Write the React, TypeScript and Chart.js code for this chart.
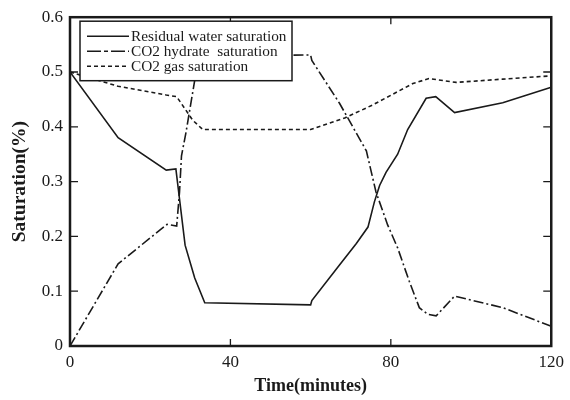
import { useEffect, useRef } from 'react';
import { Chart, registerables } from 'chart.js';

Chart.register(...registerables);

const FONT = "'Liberation Serif', 'Times New Roman', serif";
const INK = '#1a1a1a';

const waterTime = [0, 12, 24, 26.4, 28.7, 31.1, 33.6, 60, 60.3, 67.2, 71.4, 74.3, 75.9, 77.2, 78.8, 81.7, 84.2, 88.8, 91.2, 95.9, 107.9, 120];
const waterSat = [0.5, 0.38, 0.321, 0.323, 0.184, 0.124, 0.079, 0.075, 0.083, 0.148, 0.187, 0.217, 0.263, 0.293, 0.317, 0.35, 0.395, 0.452, 0.455, 0.426, 0.444, 0.472];

const hydrateTime = [0, 12, 24.2, 26.6, 27.3, 27.8, 28.9, 31.4, 33, 60, 60.3, 67.2, 70.9, 73.9, 76.3, 79.2, 81.7, 84.6, 87.1, 89.2, 91.3, 95.9, 107.9, 120];
const hydrateSat = [0, 0.15, 0.222, 0.219, 0.28, 0.347, 0.389, 0.498, 0.53, 0.531, 0.521, 0.443, 0.395, 0.356, 0.281, 0.221, 0.179, 0.118, 0.07, 0.058, 0.055, 0.091, 0.07, 0.036];

const gasTime = [0, 12, 24, 26.6, 30.6, 33.1, 60, 68.5, 75.5, 85.5, 89.5, 96.3, 107.9, 120];
const gasSat = [0.5, 0.474, 0.458, 0.455, 0.412, 0.395, 0.395, 0.416, 0.44, 0.479, 0.488, 0.481, 0.487, 0.493];

const seriesNames = ['Residual water saturation', 'CO2 hydrate  saturation', 'CO2 gas saturation'];
const seriesDash = [[], [10, 3, 2, 3], [4, 3]];

const xTicks = [0, 40, 80, 120];
const yTicks = [0, 0.1, 0.2, 0.3, 0.4, 0.5, 0.6];

function pts(xs: number[], ys: number[]) {
  return xs.map((x, i) => ({ x, y: ys[i] }));
}

const framePlugin = {
  id: 'frameAndLegend',
  afterDatasetsDraw(chart: any) {
    const { ctx, chartArea } = chart;
    const xs = chart.scales.x;
    const ys = chart.scales.y;
    const { left, right, top, bottom } = chartArea;
    ctx.save();
    ctx.strokeStyle = INK;
    // inner ticks
    ctx.lineWidth = 1.3;
    ctx.beginPath();
    xTicks.slice(1, -1).forEach((v) => {
      const p = xs.getPixelForValue(v);
      ctx.moveTo(p, bottom);
      ctx.lineTo(p, bottom - 7);
      ctx.moveTo(p, top);
      ctx.lineTo(p, top + 7);
    });
    yTicks.slice(1, -1).forEach((v) => {
      const p = ys.getPixelForValue(v);
      ctx.moveTo(left, p);
      ctx.lineTo(left + 8, p);
      ctx.moveTo(right, p);
      ctx.lineTo(right - 8, p);
    });
    ctx.stroke();
    // frame
    ctx.lineWidth = 2.5;
    ctx.strokeRect(left, top, right - left, bottom - top);

    // legend
    const bx = left + 10;
    const by = top + 4;
    const bw = 212;
    const bh = 59.5;
    ctx.fillStyle = '#ffffff';
    ctx.fillRect(bx, by, bw, bh);
    ctx.lineWidth = 1.5;
    ctx.strokeRect(bx, by, bw, bh);
    ctx.font = `15.3px ${FONT}`;
    ctx.textBaseline = 'middle';
    ctx.textAlign = 'left';
    seriesNames.forEach((name, i) => {
      const yy = by + 15 + i * 15;
      ctx.beginPath();
      ctx.setLineDash(i === 1 ? [14, 3, 4, 3] : (seriesDash[i] as number[]));
      ctx.lineWidth = 1.5;
      ctx.moveTo(bx + 7, yy);
      ctx.lineTo(bx + 49, yy);
      ctx.stroke();
      ctx.setLineDash([]);
      ctx.fillStyle = INK;
      ctx.fillText(name, bx + 51, yy + 0.5);
    });
    ctx.restore();
  },
};

export default function App() {
  const ref = useRef<HTMLCanvasElement | null>(null);
  useEffect(() => {
    if (!ref.current) return;
    const sets = [
      pts(waterTime, waterSat),
      pts(hydrateTime, hydrateSat),
      pts(gasTime, gasSat),
    ];
    const chart = new Chart(ref.current, {
      type: 'line',
      data: {
        datasets: sets.map((d, i) => ({
          label: seriesNames[i],
          data: d,
          borderColor: INK,
          borderWidth: 1.6,
          borderDash: seriesDash[i],
          pointRadius: 0,
          fill: false,
          tension: 0,
        })),
      },
      options: {
        animation: false,
        responsive: false,
        events: [],
        layout: { padding: { top: 13, right: 18, left: 0, bottom: 0 } },
        plugins: { legend: { display: false }, tooltip: { enabled: false } },
        scales: {
          x: {
            type: 'linear',
            min: 0,
            max: 120,
            afterBuildTicks: (s: any) => {
              s.ticks = xTicks.map((v) => ({ value: v }));
            },
            afterFit: (s: any) => {
              s.height = 54;
            },
            ticks: {
              font: { family: FONT, size: 17 },
              color: INK,
              padding: 6,
              maxRotation: 0,
              autoSkip: false,
            },
            grid: { display: false, drawTicks: false },
            border: { display: false },
            title: {
              display: true,
              text: 'Time(minutes)',
              font: { family: FONT, size: 18, weight: 'bold' },
              color: INK,
              padding: { top: 0, bottom: 3 },
            },
          },
          y: {
            type: 'linear',
            min: 0,
            max: 0.6,
            afterBuildTicks: (s: any) => {
              s.ticks = yTicks.map((v) => ({ value: v }));
            },
            afterFit: (s: any) => {
              s.width = 70;
            },
            ticks: {
              font: { family: FONT, size: 17 },
              color: INK,
              padding: 7,
              callback: (v: any) => String(Math.round(Number(v) * 10) / 10),
            },
            grid: { display: false, drawTicks: false },
            border: { display: false },
            title: {
              display: true,
              text: 'Saturation(%)',
              font: { family: FONT, size: 19.5, weight: 'bold' },
              color: INK,
              padding: { top: 8, bottom: 0 },
            },
          },
        },
      },
      plugins: [framePlugin],
    });
    return () => chart.destroy();
  }, []);
  return (
    <div style={{ position: 'absolute', left: 0, top: 0, width: 570, height: 400, background: '#fff' }}>
      <canvas ref={ref} width={570} height={400} style={{ width: 570, height: 400, display: 'block' }} />
    </div>
  );
}
